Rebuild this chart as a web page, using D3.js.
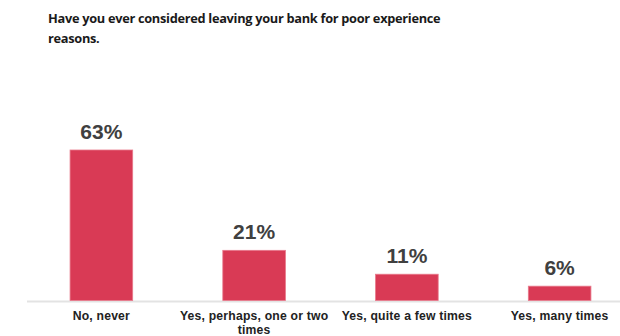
<!DOCTYPE html>
<html>
<head>
<meta charset="utf-8">
<script src="https://cdn.jsdelivr.net/npm/d3@7"></script>
<style>
  html, body { margin: 0; padding: 0; background: #fff; }
  svg { display: block; }
</style>
</head>
<body>
<svg id="chart" width="620" height="336"></svg>
<script>
// Survey answers and their shares (percent)
const categories = ["No, never", "Yes, perhaps, one or two times", "Yes, quite a few times", "Yes, many times"];
const values = [63, 21, 11, 6];
const titleLines = ["Have you ever considered leaving your bank for poor experience", "reasons."];

const svg = d3.select("#chart");
const W = 620, H = 336;
const baseY = 300.5;

const x = d3.scaleBand()
  .domain(categories)
  .range([25, 636])
  .paddingInner(0.59)
  .paddingOuter(0.295);

const y = d3.scaleLinear()
  .domain([0, 63])
  .range([baseY, 150]);

// Title
svg.append("g")
  .selectAll("text")
  .data(titleLines)
  .join("text")
  .attr("x", 48)
  .attr("y", (d, i) => 23 + i * 20)
  .attr("font-family", "'Open Sans', sans-serif")
  .attr("font-weight", 700)
  .attr("font-size", 12.8)
  .attr("letter-spacing", -0.3)
  .attr("fill", "#1a1a1a")
  .text(d => d);

// Baseline
svg.append("line")
  .attr("x1", 27).attr("x2", W)
  .attr("y1", baseY + 1).attr("y2", baseY + 1)
  .attr("stroke", "#e3e3e3")
  .attr("stroke-width", 2);

// Bars
svg.append("g")
  .selectAll("rect")
  .data(values)
  .join("rect")
  .attr("x", (d, i) => x(categories[i]))
  .attr("y", d => y(d))
  .attr("width", x.bandwidth())
  .attr("height", d => baseY - y(d))
  .attr("fill", "#d93a55")
  .attr("stroke", "#e8798b")
  .attr("stroke-width", 0.8);

// Value labels
svg.append("g")
  .selectAll("text")
  .data(values)
  .join("text")
  .attr("x", (d, i) => x(categories[i]) + x.bandwidth() / 2)
  .attr("y", d => y(d) - 11)
  .attr("text-anchor", "middle")
  .attr("font-family", "'Liberation Sans', Arial, sans-serif")
  .attr("font-weight", 700)
  .attr("font-size", 21)
  .attr("fill", "#404040")
  .text(d => d + "%");

// Category labels, wrapped to the band width
const catLines = categories.map(c => c === "Yes, perhaps, one or two times"
  ? ["Yes, perhaps, one or two", "times"] : [c]);

const labels = svg.append("g")
  .selectAll("text")
  .data(categories)
  .join("text")
  .attr("x", d => x(d) + x.bandwidth() / 2)
  .attr("y", 320)
  .attr("text-anchor", "middle")
  .attr("font-family", "'Liberation Sans', Arial, sans-serif")
  .attr("font-weight", 700)
  .attr("font-size", 12.2)
  .attr("letter-spacing", 0.2)
  .attr("fill", "#222");

labels.each(function(d, i) {
  const t = d3.select(this);
  catLines[i].forEach((line, j) => {
    t.append("tspan")
      .attr("x", x(d) + x.bandwidth() / 2)
      .attr("dy", j === 0 ? 0 : 13.5)
      .text(line);
  });
});
</script>
</body>
</html>
